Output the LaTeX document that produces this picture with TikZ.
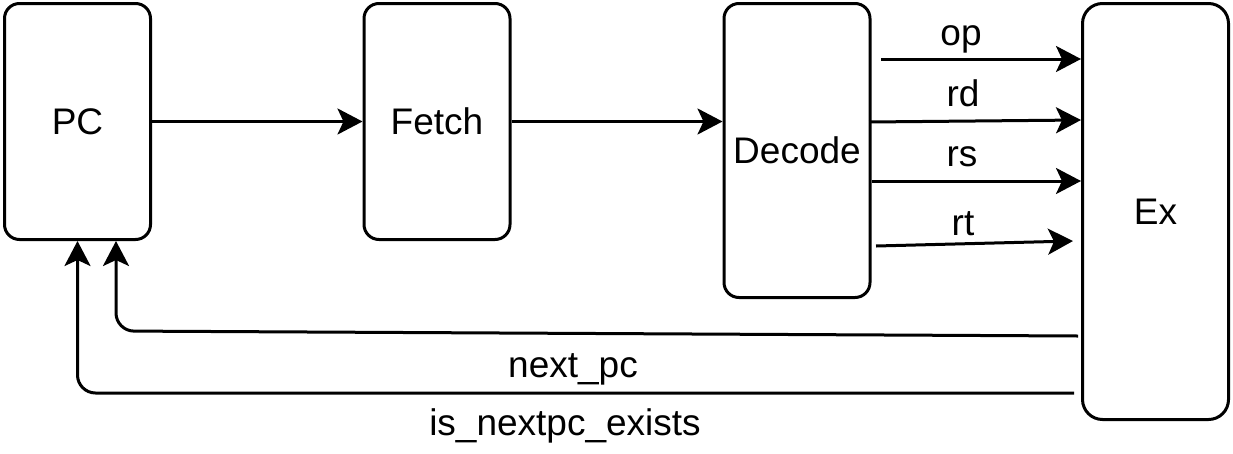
\documentclass[tikz,border=0pt]{standalone}
\usepackage{fontspec}
\setmainfont{Liberation Sans}
\usetikzlibrary{arrows.meta, positioning, calc}

\begin{document}
\begin{tikzpicture}[
  x=1pt, y=-1pt,
  block/.style={draw=black, line width=3pt, rounded corners=15pt, minimum width=146pt, align=center, font=\fontsize{37}{45}\selectfont},
  lbl/.style={anchor=base, font=\fontsize{37}{45}\selectfont},
  wire/.style={->, line width=3pt},
  >={Stealth[length=25pt, width=26pt, inset=6pt]}
]
\useasboundingbox (0,0) rectangle (1233,453);

\node[block, minimum height=236pt] (pc)     at (77.5,121.5)   {PC};
\node[block, minimum height=236pt] (fetch)  at (437,121.5)    {Fetch};
\node[block, minimum height=294pt] (decode) at (797,150.5)    {Decode};
\node[block, minimum height=416pt, rounded corners=20pt] (ex) at (1155.5,211.5) {Ex};

\draw[wire] (pc) -- (fetch);
\draw[wire] (fetch) -- (decode.west |- fetch.east);

% decode outputs
\coordinate (op0) at (881,59);
\coordinate (rd0) at (869,122);
\coordinate (rs0) at (872,181);
\coordinate (rt0) at (876,246);
\coordinate (rt1) at (1073,241);
\draw[wire] (op0) -- (ex.west |- op0);
\draw[wire] (rd0) -- (ex.west |- 0,120);
\draw[wire] (rs0) -- (ex.west |- rs0);
\draw[wire] (rt0) -- (rt1);
\node[lbl] (oplbl) at (961,45)  {op};
\node[lbl] (rdlbl) at (963,106) {rd};
\node[lbl] (rslbl) at (962,166) {rs};
\node[lbl] (rtlbl) at (963,235) {rt};

% feedback to pc
\coordinate (nx0) at (1078,336);
\coordinate (ie0) at (1074,393);
\draw[wire, rounded corners=18pt] (nx0) -- (116,331) -- ([xshift=38.5pt]pc.south);
\draw[wire, rounded corners=18pt] (ie0) -- (77.5,393) -- (pc.south);
\node[lbl] (nxlbl) at (573,377) {next\_pc};
\node[lbl] (ielbl) at (565,435) {is\_nextpc\_exists};
\end{tikzpicture}
\end{document}
